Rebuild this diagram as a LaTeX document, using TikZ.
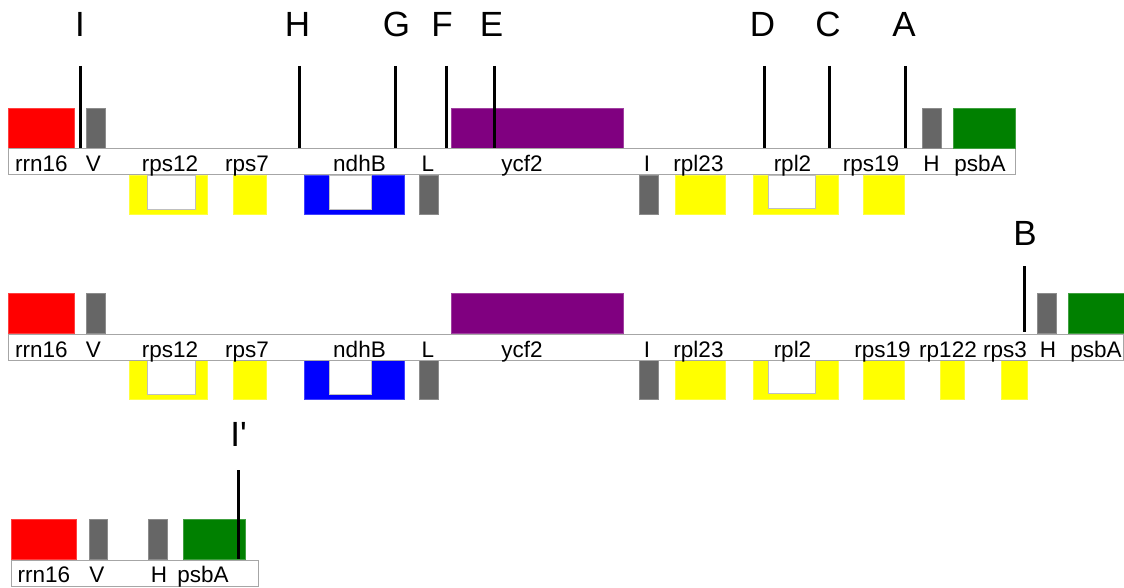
\documentclass[tikz,border=0pt]{standalone}
\usepackage{fontspec}
\setmainfont{Liberation Sans}
\definecolor{gpurple}{HTML}{800080}
\definecolor{ggreen}{HTML}{008000}
\definecolor{ggray}{HTML}{666666}
\definecolor{gred}{HTML}{FF0000}
\definecolor{gyellow}{HTML}{FFFF00}
\definecolor{gblue}{HTML}{0000FF}
\tikzset{
  lab/.style={font=\fontsize{22.5}{24}\selectfont, anchor=base, inner sep=0pt},
  letter/.style={font=\fontsize{35}{38}\selectfont, anchor=base, inner sep=0pt},
  marker/.style={line width=3pt, black},
  strip/.style={draw=black!35, fill=white, line width=1pt},
}
\newcommand\genebox[5]{\fill[#5, draw=#5!75!white, line width=0.6pt] (#1,#2) rectangle (#3,#4);}
\newcommand\holebox[4]{\fill[white, draw=black!25, line width=0.6pt] (#1,#2) rectangle (#3,#4);}
\newcommand\commonrow[1]{%
  \draw[strip] (8,149) rectangle (#1,175);
  \genebox{8}{108}{74}{148}{gred}
  \genebox{86}{108}{105}{148}{ggray}
  \genebox{129}{175}{207}{214}{gyellow}
  \holebox{147}{175}{195}{209}
  \genebox{233}{175}{266}{214}{gyellow}
  \genebox{304}{175}{404}{214}{gblue}
  \holebox{329}{175}{371}{209}
  \genebox{419}{175}{438}{214}{ggray}
  \genebox{451}{108}{623}{148}{gpurple}
  \genebox{639}{175}{658}{214}{ggray}
  \genebox{675}{175}{725}{214}{gyellow}
  \genebox{753}{175}{838}{214}{gyellow}
  \holebox{768}{175}{815}{208}
  \genebox{863}{175}{904}{214}{gyellow}
  \draw[strip, fill=none] (8,149) rectangle (#1,175);
}
\newcommand\commonlabels[1]{%
  \node[lab] (rrn#1) at (41.5,172) {rrn16};
  \node[lab] (V#1) at (93.5,172) {V};
  \node[lab] (rpsA#1) at (170,172) {rps12};
  \node[lab] (rpsB#1) at (247,172) {rps7};
  \node[lab] (ndh#1) at (359.5,172) {ndhB};
  \node[lab] (L#1) at (428,172) {L};
  \node[lab] (ycf#1) at (522,172) {ycf2};
  \node[lab] (I#1) at (647,172) {I};
  \node[lab] (rplA#1) at (698.5,172) {rpl23};
  \node[lab] (rplB#1) at (792.5,172) {rpl2};
}
\begin{document}
\begin{tikzpicture}[x=1pt,y=-1pt]
\useasboundingbox (0,0) rectangle (1124,588);
\fill[white] (0,0) rectangle (1124,588);
% ---------- top row ----------
\commonrow{1015}
\genebox{922}{108}{941}{148}{ggray}
\genebox{953}{108}{1015}{148}{ggreen}
\commonlabels{t}
\node[lab] (rpsCt) at (871,172) {rps19};
\node[lab] (Ht) at (931.5,172) {H};
\node[lab] (psbt) at (980,172) {psbA};
% markers
\foreach \nm/\lx/\mx in {I/80/80.5, H/297.5/299, G/396.5/395.5, F/442/446.5, E/491.5/494, D/762.5/764.5, C/828/829.5, A/904/905.5}{
  \node[letter] (let\nm) at (\lx,37) {\nm};
  \coordinate (mt\nm) at (\mx,66);
  \coordinate (mb\nm) at (\mx,148);
  \draw[marker] (mt\nm) -- (mb\nm);
}
% ---------- middle row ----------
\begin{scope}[shift={(0,185)}]
\commonrow{1123}
\genebox{940}{175}{964}{214}{gyellow}
\genebox{1001}{175}{1027}{214}{gyellow}
\genebox{1037}{108}{1056}{148}{ggray}
\genebox{1068}{108}{1124}{148}{ggreen}
\draw[strip, fill=none] (8,149) -- (1124,149);
\draw[strip, fill=none] (8,175) -- (1124,175);
\commonlabels{m}
\node[lab] (rpsCm) at (882.5,172) {rps19};
\node[lab] (rpm) at (948,172) {rp122};
\node[lab] (rpsDm) at (1005,172) {rps3};
\node[lab] (Hm) at (1048,172) {H};
\node[lab] (psbm) at (1096,172) {psbA};
\end{scope}
\node[letter] (letB) at (1025,245) {B};
\coordinate (mtB) at (1024.5,266);
\coordinate (mbB) at (1024.5,332);
\draw[marker] (mtB) -- (mbB);
% ---------- bottom row ----------
\draw[strip] (11,560) rectangle (258,586);
\genebox{11}{519}{76}{559}{gred}
\genebox{89}{519}{107}{559}{ggray}
\genebox{148}{519}{167}{559}{ggray}
\genebox{183}{519}{245}{559}{ggreen}
\node[lab] (rrnb) at (44,582) {rrn16};
\node[lab] (Vb) at (97,582) {V};
\node[lab] (Hb) at (159,582) {H};
\node[lab] (psbb) at (203,582) {psbA};
\node[letter] (letIp) at (238.5,446.5) {I\textquotesingle};
\coordinate (mtIp) at (238.5,470);
\coordinate (mbIp) at (238.5,559);
\draw[marker] (mtIp) -- (mbIp);
\end{tikzpicture}
\end{document}
